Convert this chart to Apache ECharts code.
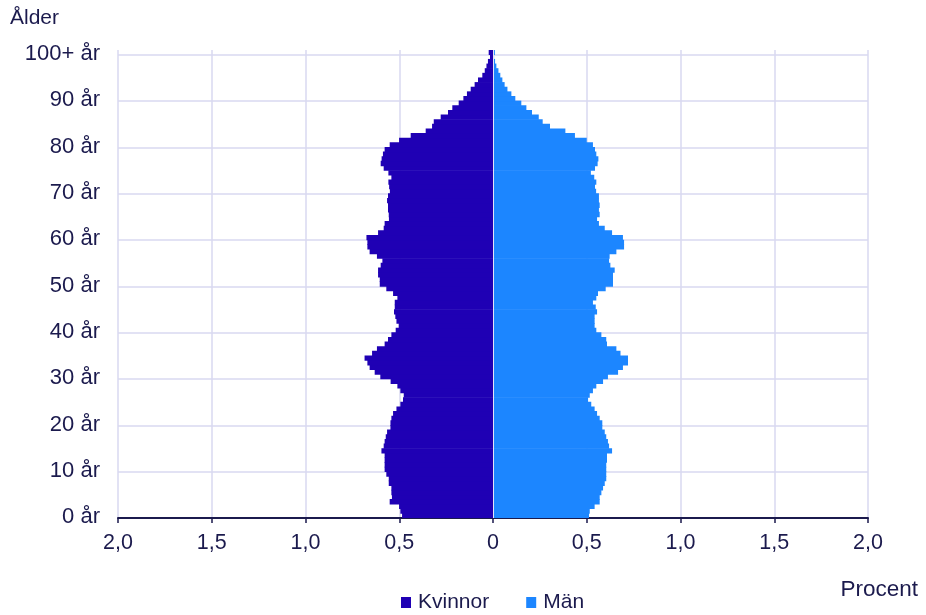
<!DOCTYPE html>
<html>
<head>
<meta charset="utf-8">
<script src="https://cdn.jsdelivr.net/npm/echarts@6/dist/echarts.min.js"></script>
<style>
html,body{margin:0;padding:0;background:#fff;}
#chart{width:926px;height:615px;}
</style>
</head>
<body>
<div id="chart"></div>
<script>
// Ages 0..100 (100 = 100+)
var ages = [];
for (var a = 0; a <= 100; a++) ages.push(a === 100 ? '100+ år' : a + ' år');

// Percent of population, women (drawn to the left)
var kvinnor = [
0.485,0.494,0.501,0.551,0.539,0.542,0.542,0.556,0.556,0.569,
0.578,0.578,0.578,0.578,0.595,0.583,0.578,0.572,0.565,0.547,
0.547,0.542,0.533,0.515,0.494,0.480,0.476,0.494,0.510,0.546,
0.601,0.631,0.658,0.670,0.685,0.645,0.619,0.578,0.560,0.542,
0.519,0.503,0.515,0.521,0.528,0.524,0.524,0.510,0.533,0.569,
0.604,0.604,0.613,0.613,0.599,0.590,0.619,0.658,0.670,0.670,
0.675,0.613,0.583,0.578,0.555,0.556,0.560,0.560,0.565,0.560,
0.550,0.554,0.558,0.542,0.558,0.583,0.599,0.594,0.587,0.578,
0.551,0.501,0.439,0.359,0.325,0.316,0.279,0.240,0.217,0.183,
0.158,0.139,0.119,0.098,0.080,0.057,0.044,0.035,0.027,0.016,
0.023];

// Percent of population, men (drawn to the right)
var man = [
0.512,0.516,0.542,0.569,0.569,0.578,0.587,0.596,0.604,0.604,
0.604,0.604,0.608,0.608,0.635,0.619,0.613,0.604,0.596,0.583,
0.583,0.569,0.555,0.542,0.524,0.507,0.516,0.533,0.551,0.587,
0.613,0.667,0.693,0.720,0.720,0.680,0.658,0.608,0.604,0.578,
0.551,0.542,0.542,0.542,0.555,0.548,0.533,0.551,0.560,0.601,
0.640,0.640,0.640,0.649,0.626,0.619,0.622,0.658,0.699,0.699,
0.693,0.635,0.596,0.565,0.555,0.569,0.565,0.569,0.565,0.565,
0.550,0.544,0.551,0.540,0.522,0.544,0.558,0.562,0.551,0.544,
0.533,0.500,0.437,0.386,0.304,0.265,0.244,0.208,0.178,0.151,
0.119,0.098,0.077,0.062,0.050,0.039,0.029,0.018,0.011,0.006,
0.010];

var seriesNames = ['Kvinnor', 'Män'];
var xTicks = { min: -2, max: 2, interval: 0.5 };

var FONT = '"Liberation Sans", Arial, sans-serif';
var TXT = '#1b1a4d';
var GRID = '#d8d8f0';
var C_K = '#1f00b4';
var C_M = '#1c86ff';

var chart = echarts.init(document.getElementById('chart'), null, {renderer: 'canvas'});
chart.setOption({
  animation: false,
  textStyle: { fontFamily: FONT, color: TXT },
  grid: { left: 118, right: 58, top: 50, bottom: 97, containLabel: false },
  legend: {
    data: seriesNames,
    left: 401, top: 592, padding: 0,
    itemWidth: 10, itemHeight: 11, itemGap: 37,
    icon: 'rect',
    textStyle: { fontFamily: FONT, fontSize: 21, color: TXT, padding: [0,0,0,2] }
  },
  graphic: [
    { type: 'text', left: 10, top: 8, style: { text: 'Ålder', font: '21px ' + FONT, fill: TXT } },
    { type: 'text', right: 8, top: 578, style: { text: 'Procent', font: '22.5px ' + FONT, fill: TXT } }
  ],
  xAxis: {
    type: 'value',
    min: xTicks.min, max: xTicks.max, interval: xTicks.interval,
    axisLine: { show: true, onZero: false, lineStyle: { color: TXT, width: 2 } },
    axisTick: { show: true, length: 5, lineStyle: { color: TXT, width: 1.5 } },
    axisLabel: {
      margin: 14, fontSize: 21.5, fontFamily: FONT, color: TXT,
      formatter: function (v) { return v === 0 ? '0' : Math.abs(v).toFixed(1).replace('.', ','); }
    },
    splitLine: { show: true, lineStyle: { color: GRID, width: 1.5 } }
  },
  yAxis: {
    type: 'category',
    data: ages,
    boundaryGap: true,
    axisLine: { show: false },
    axisTick: { show: false },
    axisLabel: {
      interval: 9, margin: 18, color: TXT,
      formatter: function (v) { return '{a|' + v + '}'; },
      rich: { a: { fontSize: 22, fontFamily: FONT, color: TXT, padding: [3, 0, 0, 0] } }
    },
    splitLine: { show: true, interval: 9, showMaxLine: false, lineStyle: { color: GRID, width: 1.5 } }
  },
  series: [
    {
      name: seriesNames[0], type: 'bar', stack: 'p',
      barWidth: '115%',
      itemStyle: { color: C_K },
      data: kvinnor.map(function (v) { return -v; })
    },
    {
      name: seriesNames[1], type: 'bar', stack: 'p',
      barWidth: '115%',
      itemStyle: { color: C_M },
      data: man,
      markLine: {
        silent: true, symbol: 'none', label: { show: false },
        lineStyle: { color: '#e4e4f6', width: 1, type: 'solid' },
        data: [{ xAxis: 0 }]
      }
    }
  ]
});
</script>
</body>
</html>
